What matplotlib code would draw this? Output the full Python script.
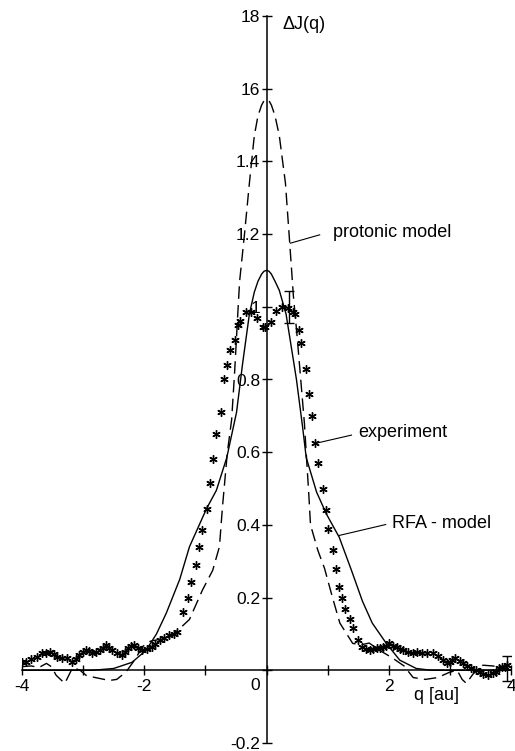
import numpy as np
import matplotlib.pyplot as plt

plt.rcParams['font.family'] = ['Liberation Sans', 'DejaVu Sans']

# experiment (asterisks)
q_exp = [-4.0, -3.93, -3.85, -3.76, -3.67, -3.6, -3.55, -3.48, -3.42, -3.35, -3.27, -3.19,
         -3.12, -3.06, -3.0, -2.95, -2.9, -2.85, -2.79, -2.73, -2.67, -2.62, -2.57, -2.52,
         -2.45, -2.37, -2.32, -2.27, -2.21, -2.16, -2.1, -2.03, -1.96, -1.88, -1.82, -1.75,
         -1.67, -1.59, -1.52, -1.46, -1.37, -1.29, -1.23, -1.16, -1.11, -1.05, -0.98, -0.93,
         -0.87, -0.82, -0.75, -0.70, -0.64, -0.59, -0.52, -0.47, -0.43, -0.33, -0.26, -0.16,
         -0.05, -0.03, 0.08, 0.16, 0.26, 0.35, 0.43, 0.47, 0.53, 0.57, 0.64, 0.69, 0.74,
         0.80, 0.85, 0.92, 0.97, 1.01, 1.08, 1.13, 1.19, 1.24, 1.28, 1.36, 1.41, 1.5, 1.57,
         1.63, 1.69, 1.75, 1.8, 1.85, 1.9, 1.96, 2.01, 2.07, 2.13, 2.18, 2.23, 2.31, 2.39,
         2.47, 2.55, 2.63, 2.72, 2.8, 2.88, 2.95, 3.0, 3.04, 3.08, 3.16, 3.21, 3.28, 3.35,
         3.42, 3.49, 3.55, 3.62, 3.7, 3.76, 3.81, 3.86, 3.9, 3.93]
j_exp = [0.022, 0.022, 0.03, 0.036, 0.047, 0.047, 0.05, 0.044, 0.036, 0.035, 0.033, 0.022,
         0.03, 0.041, 0.05, 0.055, 0.052, 0.047, 0.05, 0.055, 0.062, 0.069, 0.062, 0.055,
         0.048, 0.041, 0.05, 0.06, 0.066, 0.069, 0.062, 0.055, 0.058, 0.063, 0.072, 0.083,
         0.09, 0.096, 0.1, 0.105, 0.16, 0.198, 0.242, 0.289, 0.338, 0.385, 0.445, 0.515,
         0.58, 0.65, 0.71, 0.80, 0.84, 0.88, 0.91, 0.95, 0.96, 0.985, 0.985, 0.968,
         0.944, 0.944, 0.957, 0.988, 1.0, 0.996, 0.985, 0.98, 0.935, 0.90, 0.83, 0.76, 0.70,
         0.625, 0.57, 0.50, 0.44, 0.39, 0.33, 0.28, 0.23, 0.20, 0.17, 0.14, 0.115, 0.083, 0.063,
         0.058, 0.055, 0.058, 0.06, 0.062, 0.063, 0.068, 0.074, 0.068, 0.063, 0.058, 0.055, 0.05,
         0.047, 0.05, 0.047, 0.047, 0.047, 0.04, 0.028, 0.019, 0.022, 0.028, 0.033, 0.025,
         0.019, 0.012, 0.005, 0.0, -0.005, -0.01, -0.014, -0.008, -0.005, 0.005, 0.008,
         0.01, 0.014]

# protonic model (dashed)
q_prot = [-4.0, -3.85, -3.72, -3.6, -3.52, -3.44, -3.3, -3.17, -3.05, -2.95, -2.8, -2.57,
          -2.45, -2.3, -2.15, -2.03, -1.9, -1.75, -1.6, -1.45, -1.26, -1.05, -0.88, -0.77,
          -0.72, -0.64, -0.57, -0.52, -0.47, -0.44, -0.36, -0.28, -0.2, -0.14, -0.08, -0.04,
          0.0, 0.04, 0.08, 0.14, 0.21, 0.31, 0.38, 0.44, 0.5, 0.57, 0.62, 0.66, 0.69, 0.72,
          0.84, 0.95, 1.08, 1.2, 1.41, 1.55, 1.68, 1.85, 2.05, 2.25, 2.4, 2.6, 2.8, 3.0,
          3.12, 3.2, 3.27, 3.38, 3.54, 3.7, 3.85, 4.0]
j_prot = [0.01, 0.012, 0.008, 0.019, 0.01, -0.014, -0.036, 0.008, 0.0, -0.014, -0.02, -0.028,
          -0.025, -0.005, 0.03, 0.065, 0.08, 0.085, 0.09, 0.11, 0.14, 0.22, 0.275, 0.34,
          0.45, 0.60, 0.69, 0.825, 0.98, 1.07, 1.20, 1.34, 1.47, 1.525, 1.555, 1.567,
          1.57, 1.567, 1.555, 1.525, 1.47, 1.34, 1.175, 1.03, 0.92, 0.78, 0.68, 0.57, 0.49, 0.40,
          0.33, 0.28, 0.2, 0.13, 0.074, 0.07, 0.075, 0.055, 0.035, 0.012, -0.02, -0.025,
          -0.02, -0.005, 0.0, -0.025, -0.036, -0.01, 0.014, 0.012, 0.008, 0.0]

# RFA model (solid)
q_rfa = [-4.0, -3.4, -2.85, -2.5, -2.2, -1.97, -1.8, -1.64, -1.42, -1.26, -0.98, -0.82,
         -0.65, -0.49, -0.39, -0.28, -0.2, -0.14, -0.08, -0.04, 0.0, 0.04, 0.08, 0.14,
         0.21, 0.32, 0.49, 0.59, 0.65, 0.82, 0.98, 1.19, 1.39, 1.57, 1.73, 1.96, 2.18,
         2.45, 2.7, 3.2, 4.0]
j_rfa = [0.0, 0.0, 0.0, 0.005, 0.022, 0.055, 0.1, 0.157, 0.25, 0.34, 0.445, 0.495,
         0.585, 0.71, 0.845, 0.98, 1.04, 1.07, 1.09, 1.098, 1.10, 1.098, 1.09, 1.07,
         1.045, 0.98, 0.80, 0.67, 0.585, 0.49, 0.43, 0.366, 0.275, 0.19, 0.13, 0.074, 0.028,
         0.005, 0.0, 0.0, 0.0]

# error bars on experiment
q_err = [0.36, 3.93]
j_err = [1.0, 0.005]
e_err = [0.044, 0.035]

y_ticks = [-0.2, 0.0, 0.2, 0.4, 0.6, 0.8, 1.0, 1.2, 1.4, 1.6, 1.8]
y_labels = ['-0.2', '', '0.2', '0.4', '0.6', '0.8', '1', '1.2', '1.4', '16', '18']
x_ticks = [-4, -3, -2, -1, 0, 1, 2, 3, 4]
x_labels = ['-4', '', '-2', '', '', '', '2', '', '4']

fig = plt.figure(figsize=(5.15, 7.51), dpi=100)
ax = fig.add_axes([22 / 515, 8 / 751, 489 / 515, 727 / 751])
ax.set_xlim(-4, 4)
ax.set_ylim(-0.2, 1.8)

ax.plot(q_prot, j_prot, color='black', lw=1.0, dashes=(9, 4.5))
ax.plot(q_rfa, j_rfa, color='black', lw=1.0)
ax.plot(q_exp, j_exp, ls='none', marker=(6, 2, 0), ms=6, mew=1.0, color='black')
ax.errorbar(q_err, j_err, yerr=e_err, fmt='none', ecolor='black', elinewidth=1.0,
            capsize=3.5, capthick=1.0)

for side in ['top', 'right']:
    ax.spines[side].set_visible(False)
ax.spines['left'].set_position(('data', 0))
ax.spines['bottom'].set_position(('data', 0))
ax.spines['left'].set_linewidth(1.1)
ax.spines['bottom'].set_linewidth(1.1)

ax.set_yticks(y_ticks)
ax.set_yticklabels(y_labels)
ax.set_xticks(x_ticks)
ax.set_xticklabels(x_labels)
ax.tick_params(axis='both', direction='inout', length=7, width=1.0, labelsize=12.5)
ax.tick_params(axis='y', pad=1)
ax.tick_params(axis='x', pad=3)
ax.patch.set_alpha(0)

ax.text(-0.1, -0.02, '0', ha='right', va='top', fontsize=12.5)
ax.text(0.26, 1.777, 'ΔJ(q)', ha='left', va='center', fontsize=13)
ax.text(2.78, -0.07, 'q [au]', ha='center', va='center', fontsize=13)

# curve labels with pointer lines
ax.text(1.08, 1.204, 'protonic model', ha='left', va='center', fontsize=13)
ax.plot([0.39, 0.87], [1.175, 1.198], color='black', lw=0.8)
ax.text(1.5, 0.653, 'experiment', ha='left', va='center', fontsize=13)
ax.plot([0.82, 1.39], [0.625, 0.647], color='black', lw=0.8)
ax.text(2.06, 0.404, 'RFA - model', ha='left', va='center', fontsize=13)
ax.plot([1.19, 1.95], [0.371, 0.401], color='black', lw=0.8)

fig.savefig('out.png', dpi=100)
